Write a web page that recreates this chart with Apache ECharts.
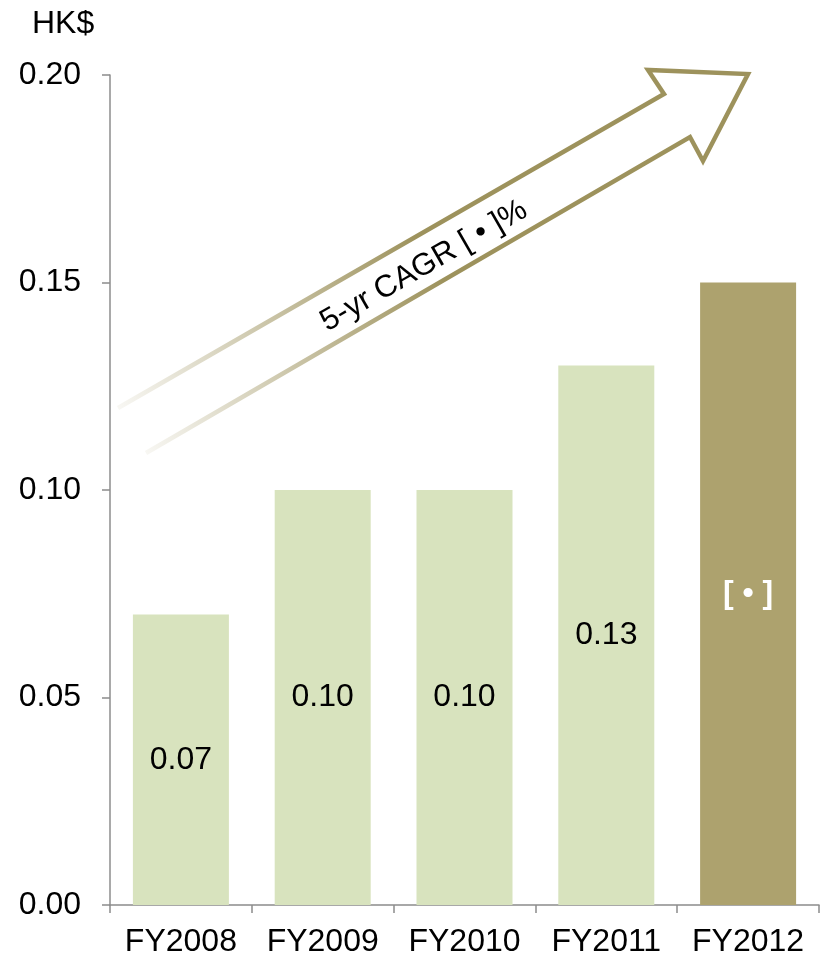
<!DOCTYPE html>
<html>
<head>
<meta charset="utf-8">
<script src="https://cdn.jsdelivr.net/npm/echarts@6/dist/echarts.min.js"></script>
<style>html,body{margin:0;padding:0;background:#fff;}#c{width:827px;height:960px;}</style>
</head>
<body>
<div id="c"></div>
<script>
var categories = ['FY2008', 'FY2009', 'FY2010', 'FY2011', 'FY2012'];
var values = [0.07, 0.10, 0.10, 0.13, 0.15];
var valueLabels = ['0.07', '0.10', '0.10', '0.13', '[ \u2022 ]'];
var unitLabel = 'HK$';
var cagrText = '5-yr CAGR [ \u2022 ]%';

var lightColor = '#D8E3BE';
var darkColor = '#ADA26E';
var font = '"Liberation Sans", Arial, sans-serif';

var chart = echarts.init(document.getElementById('c'));
var barData = values.map(function (v, i) {
  var last = i === values.length - 1;
  return {
    value: v,
    itemStyle: { color: last ? darkColor : lightColor },
    label: {
      color: last ? '#ffffff' : '#000000',
      fontWeight: last ? 'bold' : 'normal'
    }
  };
});

chart.setOption({
  animation: false,
  backgroundColor: '#ffffff',
  textStyle: { fontFamily: font },
  grid: { left: 110, right: 8, top: 75, bottom: 55, containLabel: false },
  title: {
    text: unitLabel, left: 27, top: 3,
    textStyle: { fontFamily: font, fontSize: 32, fontWeight: 'normal', color: '#000' }
  },
  xAxis: {
    type: 'category',
    data: categories,
    axisLine: { lineStyle: { color: '#8c8c8c', width: 1.5 } },
    axisTick: { show: true, interval: 0, length: 8, alignWithLabel: false, lineStyle: { color: '#8c8c8c', width: 1.5 } },
    axisLabel: { interval: 0, hideOverlap: false, color: '#000', fontSize: 32, fontFamily: font, margin: 21 }
  },
  yAxis: {
    type: 'value',
    min: 0, max: 0.2, interval: 0.05,
    splitLine: { show: false },
    axisLine: { show: true, lineStyle: { color: '#8c8c8c', width: 1.5 } },
    axisTick: { show: true, length: 8, inside: false, lineStyle: { color: '#8c8c8c', width: 1.5 } },
    axisLabel: {
      color: '#000', fontSize: 32, fontFamily: font, margin: 29,
      formatter: function (v) { return v.toFixed(2); }
    }
  },
  series: [{
    type: 'bar',
    data: barData,
    barWidth: 96,
    label: {
      show: true,
      position: 'inside',
      fontSize: 32,
      fontFamily: font,
      formatter: function (p) { return valueLabels[p.dataIndex]; }
    }
  }],
  graphic: [
    {
      type: 'polyline',
      shape: {
        points: [[118, 408], [664, 94], [648, 70], [748, 74], [703, 161], [690, 137], [146, 453]]
      },
      style: {
        fill: null,
        lineWidth: 4.5,
        lineJoin: 'miter',
        stroke: {
          type: 'linear', x: 0, y: 1, x2: 1, y2: 0,
          colorStops: [
            { offset: 0, color: 'rgba(157,146,92,0)' },
            { offset: 0.5, color: 'rgba(157,146,92,1)' },
            { offset: 1, color: 'rgba(157,146,92,1)' }
          ]
        }
      },
      z: 10
    },
    {
      type: 'text',
      x: 424, y: 266,
      rotation: Math.PI / 6,
      style: {
        text: cagrText,
        fontSize: 31,
        fontFamily: font,
        fill: '#000',
        align: 'center',
        verticalAlign: 'middle'
      },
      z: 11
    }
  ]
});
</script>
</body>
</html>
